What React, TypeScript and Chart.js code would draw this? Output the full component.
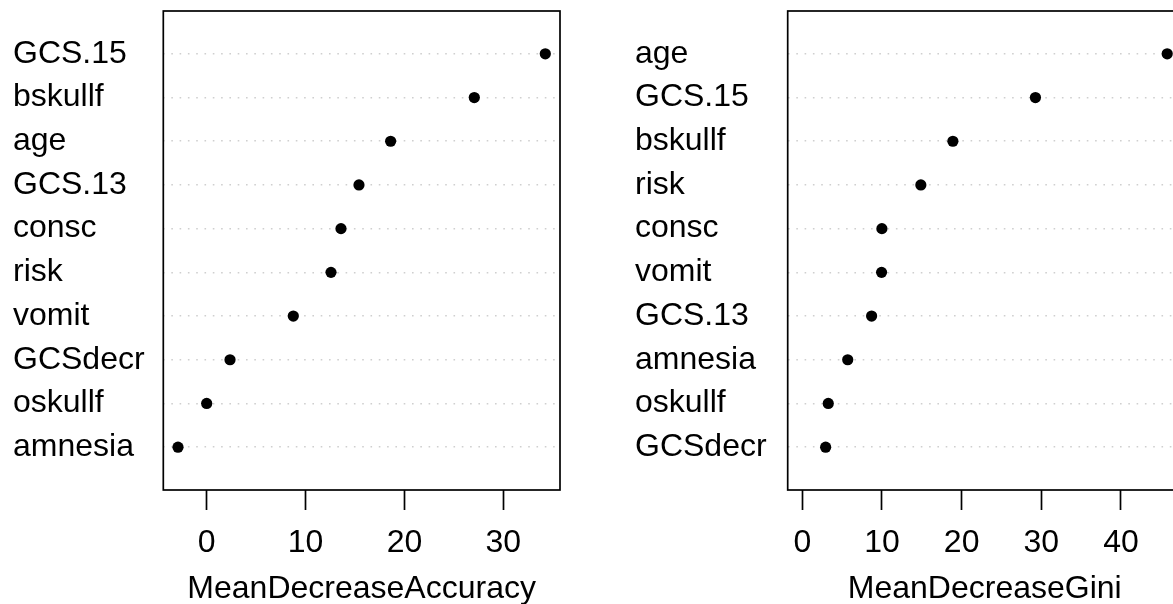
import React, { useEffect, useRef } from "react";
import { Chart, registerables } from "chart.js";

Chart.register(...registerables);

// ---- data ----
const accuracyLabels = ["GCS.15", "bskullf", "age", "GCS.13", "consc", "risk", "vomit", "GCSdecr", "oskullf", "amnesia"];
const accuracyValues = [34.24, 27.06, 18.6, 15.4, 13.58, 12.57, 8.76, 2.36, 0.0, -2.9];
const accuracyTicks = [0, 10, 20, 30];

const giniLabels = ["age", "GCS.15", "bskullf", "risk", "consc", "vomit", "GCS.13", "amnesia", "oskullf", "GCSdecr"];
const giniValues = [45.8, 29.26, 18.9, 14.88, 9.99, 9.95, 8.7, 5.7, 3.26, 2.93];
const giniTicks = [0, 10, 20, 30, 40];

const FONT = "'Liberation Sans', Arial, Helvetica, sans-serif";
const FONT_SIZE = 32;

const boxPlugin = {
  id: "rbox",
  afterDraw(chart: any) {
    const { ctx, chartArea } = chart;
    ctx.save();
    ctx.strokeStyle = "#000";
    ctx.lineWidth = 1.7;
    ctx.strokeRect(chartArea.left, chartArea.top, chartArea.right - chartArea.left, chartArea.bottom - chartArea.top);
    ctx.restore();
  },
};

type PanelProps = {
  labels: string[];
  values: number[];
  ticks: number[];
  title: string;
  zeroMin: boolean;
  width: number;
  labelX: number;
  yWidth: number;
  rightPad: number;
  left: number;
};

function Panel(p: PanelProps) {
  const ref = useRef<HTMLCanvasElement | null>(null);
  useEffect(() => {
    if (!ref.current) return;
    const n = p.labels.length;
    const lo = p.zeroMin ? 0 : Math.min(...p.values);
    const hi = Math.max(...p.values);
    const ext = 0.04 * (hi - lo);
    const yPad = 0.98;
    const chart = new Chart(ref.current, {
      type: "scatter",
      data: {
        datasets: [
          {
            data: p.values.map((v, i) => ({ x: v, y: i + 1 })),
            pointRadius: 5.6,
            pointHoverRadius: 5.6,
            pointBackgroundColor: "#000",
            pointBorderWidth: 0,
            borderColor: "#000",
            showLine: false,
          },
        ],
      },
      options: {
        responsive: false,
        animation: false,
        events: [],
        layout: { padding: { left: p.labelX, top: 11, right: p.rightPad, bottom: 0 } },
        plugins: { legend: { display: false }, tooltip: { enabled: false } },
        scales: {
          x: {
            type: "linear",
            position: "bottom",
            min: lo - ext,
            max: hi + ext,
            afterBuildTicks: (s: any) => {
              s.ticks = p.ticks.map((v) => ({ value: v }));
            },
            afterFit: (s: any) => {
              s.height = 114;
              s.paddingLeft = 0;
              s.paddingRight = 0;
            },
            grid: {
              drawOnChartArea: false,
              drawTicks: true,
              tickLength: 20,
              tickColor: "#000",
              tickWidth: 1.7,
              color: "#000",
            },
            border: { display: false },
            ticks: {
              color: "#000",
              font: { family: FONT, size: FONT_SIZE },
              padding: 14,
              maxRotation: 0,
              autoSkip: false,
            },
            title: {
              display: true,
              text: p.title,
              color: "#000",
              font: { family: FONT, size: FONT_SIZE, lineHeight: 1 },
              padding: { top: 0, bottom: -1 },
            },
          },
          y: {
            type: "linear",
            reverse: true,
            min: 1 - yPad,
            max: n + yPad,
            afterBuildTicks: (s: any) => {
              s.ticks = p.labels.map((_, i) => ({ value: i + 1 }));
            },
            afterFit: (s: any) => {
              s.width = p.yWidth;
              s.paddingTop = 0;
              s.paddingBottom = 0;
            },
            grid: { drawTicks: false, color: "#cfcfcf", lineWidth: 1.6 },
            border: { display: false, dash: [1.6, 6.7] },
            ticks: {
              crossAlign: "far",
              color: "#000",
              font: { family: FONT, size: FONT_SIZE },
              autoSkip: false,
              callback: (v: any) => p.labels[Math.round(Number(v)) - 1] ?? "",
            },
          },
        },
      } as any,
      plugins: [boxPlugin],
    });
    return () => chart.destroy();
  }, []);
  return (
    <canvas
      ref={ref}
      width={p.width}
      height={604}
      style={{ position: "absolute", left: p.left, top: 0, width: p.width, height: 604 }}
    />
  );
}

export default function App() {
  return (
    <div
      style={{
        position: "absolute",
        left: 0,
        top: 0,
        width: 1173,
        height: 604,
        overflow: "hidden",
        background: "#fff",
      }}
    >
      <Panel
        labels={accuracyLabels}
        values={accuracyValues}
        ticks={accuracyTicks}
        title="MeanDecreaseAccuracy"
        zeroMin={false}
        width={587}
        left={0}
        labelX={13}
        yWidth={150.3}
        rightPad={27}
      />
      <Panel
        labels={giniLabels}
        values={giniValues}
        ticks={giniTicks}
        title="MeanDecreaseGini"
        zeroMin={true}
        width={613}
        left={587}
        labelX={48}
        yWidth={152.7}
        rightPad={18.2}
      />
    </div>
  );
}
